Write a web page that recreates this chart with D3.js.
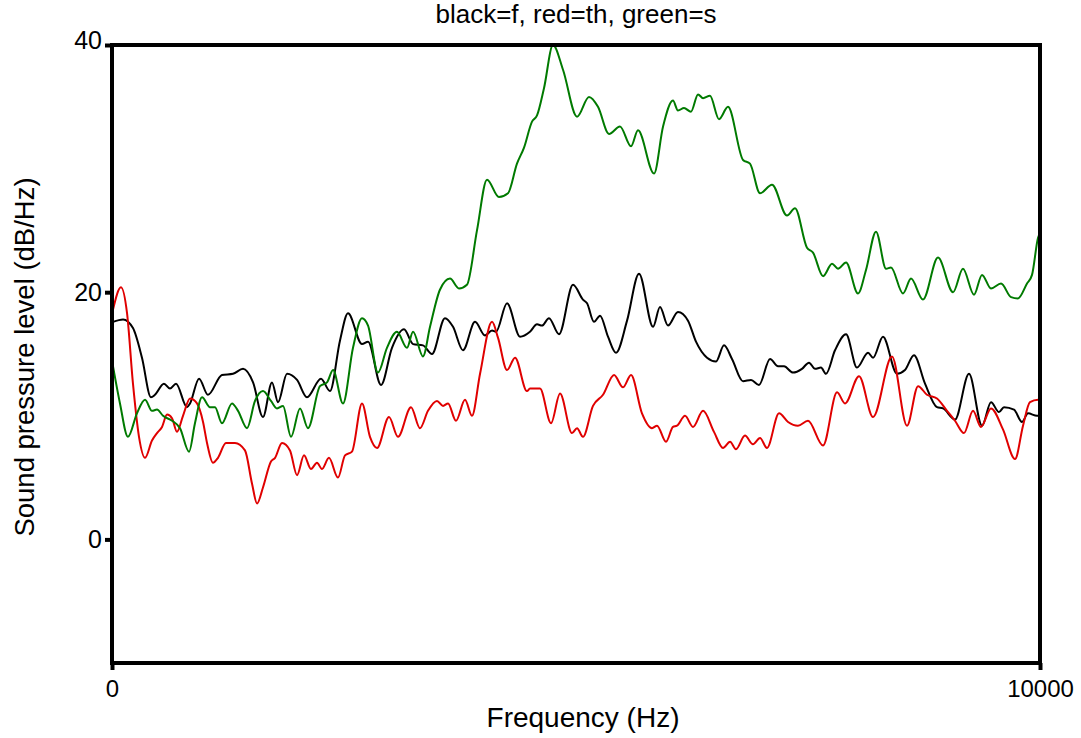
<!DOCTYPE html>
<html lang="en">
<head>
    <meta charset="UTF-8">
    <title>black=f, red=th, green=s</title>
    <script src="https://cdnjs.cloudflare.com/ajax/libs/d3/7.8.5/d3.min.js"></script>
    <style>
        body {
            margin: 0;
            background: #fff;
            font-family: "Liberation Sans", Arial, sans-serif;
        }
    </style>
</head>
<body>
    <div id="chart"></div>

    <script>
        // spectra: [frequency Hz, dB/Hz]
        const fSpectrum = [
            [11, 17.6], [119, 17.8], [226, 17.1], [323, 14.7], [420, 11.5], [463, 11.7], [560, 12.6],
            [625, 12.2], [690, 12.6], [808, 10.7], [841, 11.0], [938, 13.0], [1034, 11.7], [1185, 13.3],
            [1304, 13.4], [1412, 13.8], [1520, 12.7], [1627, 9.9], [1724, 12.7], [1789, 11.1], [1886, 13.4],
            [1994, 12.9], [2101, 11.5], [2252, 13.0], [2349, 12.0], [2457, 16.1], [2543, 18.3], [2694, 15.8],
            [2759, 16.0], [2899, 12.5], [3017, 15.5], [3147, 17.0], [3244, 15.8], [3351, 15.7], [3448, 15.0],
            [3588, 17.9], [3675, 17.2], [3782, 15.3], [3912, 17.6], [4019, 16.5], [4095, 16.9], [4138, 16.8],
            [4257, 19.1], [4397, 16.4], [4504, 16.8], [4580, 17.4], [4634, 17.3], [4709, 17.9], [4817, 16.6],
            [4968, 20.6], [5075, 19.4], [5119, 19.1], [5194, 17.6], [5259, 18.1], [5345, 16.4], [5431, 15.1],
            [5550, 17.7], [5679, 21.5], [5830, 17.2], [5905, 18.8], [5991, 17.3], [6099, 18.4], [6207, 17.7],
            [6293, 16.0], [6412, 14.7], [6509, 14.4], [6595, 15.7], [6681, 14.6], [6800, 12.8], [6886, 12.9],
            [6972, 12.5], [7091, 14.6], [7177, 14.0], [7242, 14.0], [7338, 13.5], [7435, 13.8], [7511, 14.3],
            [7576, 13.8], [7640, 13.9], [7694, 13.4], [7791, 15.3], [7910, 16.6], [8028, 13.9], [8147, 15.1],
            [8201, 14.7], [8308, 16.4], [8459, 13.4], [8545, 13.7], [8642, 14.9], [8761, 12.6], [8890, 10.7],
            [8955, 10.6], [9084, 9.7], [9235, 13.4], [9375, 9.2], [9472, 11.1], [9558, 10.3], [9612, 10.7],
            [9720, 10.5], [9806, 9.5], [9871, 10.2], [9968, 10.0], [10000, 10.0]
        ];

        const thSpectrum = [
            [11, 18.6], [97, 20.4], [162, 18.3], [226, 12.6], [291, 8.3], [356, 6.6], [431, 8.0],
            [485, 8.6], [539, 9.1], [593, 10.1], [647, 9.8], [700, 8.7], [765, 10.0], [841, 11.4],
            [916, 11.0], [981, 9.5], [1024, 7.8], [1088, 6.2], [1142, 6.6], [1228, 7.8], [1325, 7.8],
            [1433, 7.2], [1509, 4.5], [1563, 2.9], [1627, 4.2], [1713, 6.3], [1757, 6.6], [1832, 7.8],
            [1918, 7.2], [1994, 5.2], [2069, 6.8], [2144, 5.7], [2209, 6.2], [2263, 5.7], [2338, 6.6],
            [2435, 5.0], [2511, 6.8], [2586, 7.1], [2694, 11.0], [2780, 8.3], [2856, 7.4], [2985, 9.9],
            [3082, 8.3], [3222, 10.7], [3319, 9.0], [3405, 10.4], [3502, 11.2], [3567, 10.8], [3621, 11.0],
            [3707, 9.6], [3804, 11.3], [3879, 10.0], [3966, 13.4], [4095, 17.6], [4160, 16.3], [4257, 13.7],
            [4343, 14.7], [4472, 12.0], [4504, 12.2], [4612, 12.2], [4731, 9.4], [4828, 11.8], [4957, 8.6],
            [5011, 9.0], [5075, 8.3], [5183, 10.8], [5291, 11.7], [5410, 13.3], [5507, 12.3], [5593, 13.3],
            [5711, 10.2], [5819, 9.0], [5873, 9.2], [5970, 7.9], [6045, 9.1], [6088, 9.2], [6175, 10.0],
            [6261, 9.1], [6369, 10.4], [6487, 8.7], [6584, 7.4], [6660, 7.9], [6724, 7.3], [6821, 8.4],
            [6907, 7.7], [6983, 8.2], [7058, 7.4], [7188, 10.2], [7285, 9.5], [7392, 9.2], [7500, 9.6],
            [7662, 7.6], [7813, 11.9], [7899, 11.0], [8050, 13.2], [8201, 9.9], [8405, 14.8], [8567, 9.2],
            [8686, 12.4], [8782, 11.7], [8890, 11.4], [8998, 10.4], [9084, 9.6], [9181, 8.6], [9278, 10.4],
            [9364, 9.1], [9472, 10.6], [9601, 8.9], [9731, 6.5], [9817, 9.2], [9892, 11.1], [9979, 11.3],
            [10000, 11.3]
        ];

        const sSpectrum = [
            [11, 14.0], [86, 11.0], [172, 8.3], [269, 10.2], [356, 11.3], [431, 10.4], [485, 10.5],
            [550, 10.0], [647, 9.6], [733, 9.0], [830, 7.1], [894, 9.4], [970, 11.5], [1056, 10.7],
            [1110, 10.7], [1185, 9.4], [1293, 11.0], [1358, 10.4], [1455, 9.0], [1541, 11.2], [1627, 12.0],
            [1713, 11.2], [1778, 10.6], [1843, 10.8], [1929, 8.3], [2026, 10.6], [2112, 9.0], [2241, 12.4],
            [2317, 12.7], [2382, 13.7], [2489, 11.0], [2597, 15.5], [2694, 17.9], [2759, 17.3], [2866, 13.5],
            [2963, 15.5], [3071, 16.8], [3179, 15.5], [3244, 16.8], [3351, 14.8], [3427, 17.2], [3534, 20.2],
            [3642, 21.1], [3739, 20.3], [3825, 20.6], [3933, 25.0], [4041, 29.1], [4170, 27.7], [4267, 28.0],
            [4364, 30.4], [4440, 31.7], [4526, 33.8], [4580, 34.3], [4655, 36.5], [4752, 40.0], [4860, 38.0],
            [5011, 34.2], [5140, 35.8], [5237, 35.0], [5356, 32.8], [5474, 33.4], [5593, 31.8], [5668, 33.1],
            [5841, 29.6], [5938, 33.4], [6045, 35.5], [6099, 34.7], [6164, 34.9], [6239, 34.6], [6315, 36.0],
            [6369, 35.7], [6444, 35.9], [6541, 34.0], [6638, 35.0], [6800, 30.7], [6875, 30.4], [6983, 28.0],
            [7112, 28.7], [7274, 26.2], [7360, 26.8], [7489, 23.6], [7554, 23.2], [7662, 21.3], [7759, 22.3],
            [7823, 21.9], [7910, 22.4], [8039, 19.9], [8125, 21.8], [8233, 24.9], [8341, 21.9], [8394, 22.0],
            [8524, 19.9], [8610, 21.1], [8739, 19.4], [8901, 22.8], [9063, 20.0], [9170, 21.9], [9289, 19.8],
            [9375, 21.4], [9472, 20.3], [9580, 20.7], [9688, 19.6], [9763, 19.5], [9860, 20.7], [9914, 21.4],
            [9979, 24.4], [10000, 24.8]
        ];

        const xTicks = [0, 10000];
        const yTicks = [0, 20, 40];

        const width = 1081, height = 738;
        const margin = { top: 45, right: 41, bottom: 75, left: 112 };
        const innerW = width - margin.left - margin.right;
        const innerH = height - margin.top - margin.bottom;

        const svg = d3.select("#chart")
            .append("svg")
            .attr("width", width)
            .attr("height", height);

        const g = svg.append("g")
            .attr("transform", `translate(${margin.left},${margin.top})`);

        const x = d3.scaleLinear().domain([0, 10000]).range([0, innerW]);
        const y = d3.scaleLinear().domain([-10, 40]).range([innerH, 0]);

        g.append("clipPath").attr("id", "plot-clip")
            .append("rect")
            .attr("width", innerW)
            .attr("height", innerH);

        const line = d3.line()
            .x(d => x(d[0]))
            .y(d => y(d[1]))
            .curve(d3.curveMonotoneX);

        const series = [
            { data: fSpectrum, color: "#000000" },
            { data: thSpectrum, color: "#e00000" },
            { data: sSpectrum, color: "#007a00" }
        ];

        const lines = g.append("g").attr("clip-path", "url(#plot-clip)");
        series.forEach(s => {
            lines.append("path")
                .datum(s.data)
                .attr("fill", "none")
                .attr("stroke", s.color)
                .attr("stroke-width", 2)
                .attr("stroke-linejoin", "round")
                .attr("d", line);
        });

        // frame
        g.append("rect")
            .attr("width", innerW)
            .attr("height", innerH)
            .attr("fill", "none")
            .attr("stroke", "#000")
            .attr("stroke-width", 4);

        const yAxis = g.append("g")
            .call(d3.axisLeft(y).tickValues(yTicks).tickSize(7).tickPadding(3).tickFormat(d3.format("d")));
        yAxis.select(".domain").remove();
        yAxis.selectAll(".tick line").attr("stroke-width", 4);
        yAxis.selectAll(".tick text")
            .attr("font-size", 25)
            .attr("font-family", "'Liberation Sans', Arial, sans-serif")
            .attr("fill", "#000");
        yAxis.selectAll(".tick").filter(d => d === 40).select("text").attr("dy", "0.15em");

        const xAxis = g.append("g")
            .attr("transform", `translate(0,${innerH})`)
            .call(d3.axisBottom(x).tickValues(xTicks).tickSize(7).tickPadding(10).tickFormat(d3.format("d")));
        xAxis.select(".domain").remove();
        xAxis.selectAll(".tick line").attr("stroke-width", 4);
        xAxis.selectAll(".tick text")
            .attr("font-size", 24)
            .attr("font-family", "'Liberation Sans', Arial, sans-serif")
            .attr("fill", "#000");

        svg.append("text")
            .attr("x", margin.left + innerW / 2)
            .attr("y", 23)
            .attr("text-anchor", "middle")
            .attr("font-size", 26)
            .text("black=f, red=th, green=s");

        svg.append("text")
            .attr("x", 583)
            .attr("y", 727)
            .attr("text-anchor", "middle")
            .attr("font-size", 28)
            .text("Frequency (Hz)");

        svg.append("text")
            .attr("transform", `translate(34,357) rotate(-90)`)
            .attr("text-anchor", "middle")
            .attr("font-size", 27.5)
            .text("Sound pressure level (dB/Hz)");
    </script>
</body>
</html>
